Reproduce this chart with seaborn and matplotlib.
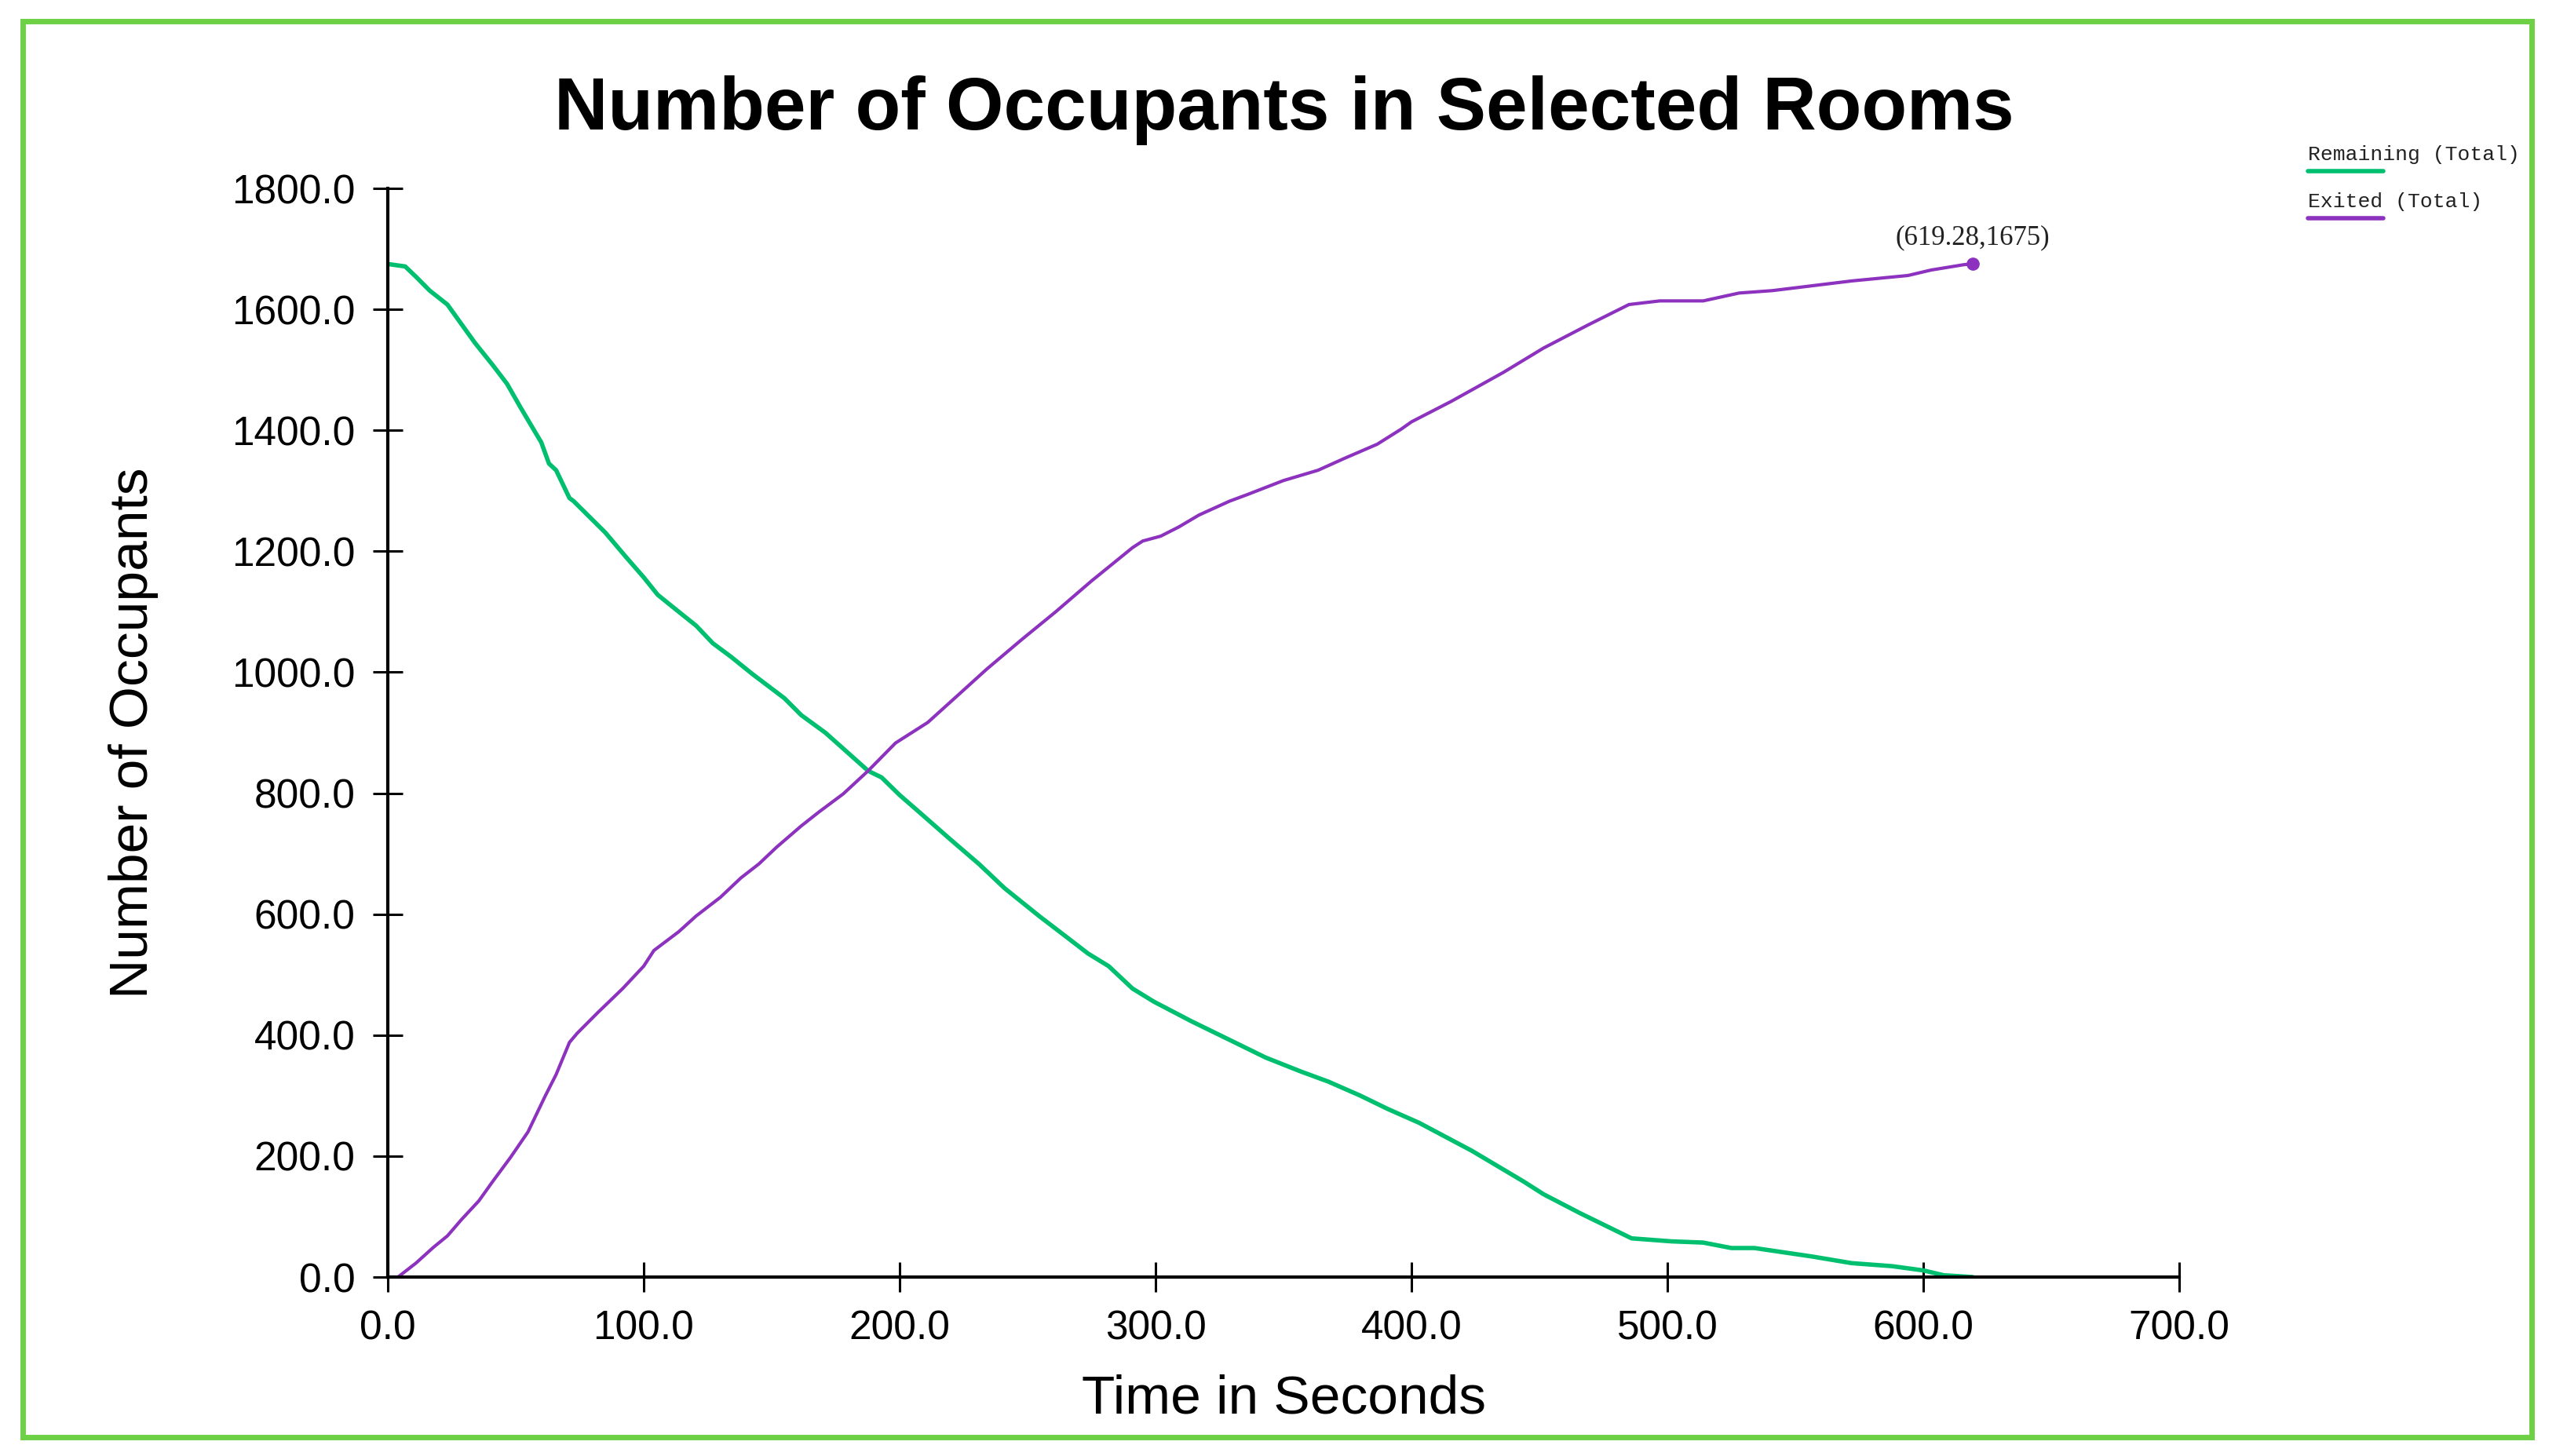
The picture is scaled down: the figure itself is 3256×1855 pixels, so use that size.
import matplotlib
matplotlib.use("Agg")
import matplotlib.pyplot as plt
from matplotlib.lines import Line2D
from matplotlib.patches import Rectangle
from matplotlib.ticker import FormatStrFormatter
import seaborn as sns
import pandas as pd

# data
remaining_time = [0, 6.8, 11, 16.4, 23.3, 34, 41, 46.6, 52, 60, 63, 65.8, 71, 72.6, 85,
                  93, 100, 105.5, 113.7, 120.5, 127, 134, 142.5, 155, 161.6, 171, 179.5,
                  187.7, 193, 200, 206.8, 220, 231, 241, 254.5, 265, 273.6, 281.7, 291,
                  299.5, 314, 329, 343, 356.7, 367.6, 380, 390.7, 403, 423.5, 443.8, 451.6,
                  465.7, 486, 501.7, 514, 525, 534, 556.5, 572, 587.8, 600, 608, 619.28]
remaining_count = [1675, 1671, 1654, 1631, 1608, 1545, 1508, 1477, 1437, 1380, 1345, 1334,
                   1288, 1283, 1231, 1191, 1157, 1128, 1100, 1077, 1048, 1026, 997, 957, 929,
                   900, 868, 837, 826, 797, 772, 723, 683, 643, 597, 563, 535, 514, 477, 455,
                   423, 392, 363, 340, 323, 300, 278, 255, 209, 158, 137, 106, 64, 59, 57, 48,
                   48, 34, 23, 18, 11, 3, 0]

exited_time = [0, 4, 11, 17.8, 23.3, 28.8, 35.6, 41, 48, 54.8, 61.6, 65.8, 71, 74, 82,
               91.8, 100, 104, 113.7, 120.5, 130, 138, 145, 152, 161.6, 168.5, 178, 187.7,
               198.4, 211, 222, 234, 247.7, 261, 275, 281.7, 291, 295, 302, 309, 317, 329,
               336, 350, 363.5, 374, 386.6, 396, 400, 415.6, 436, 451.6, 468.9, 485, 497,
               514, 528, 541, 572, 594, 603, 616, 619.28]
exited_count = [0, 0, 23, 49, 68, 95, 126, 158, 198, 240, 300, 335, 388, 403, 437, 477, 514,
                540, 571, 597, 628, 660, 683, 711, 746, 769, 799, 837, 883, 917, 959, 1005,
                1054, 1100, 1151, 1174, 1206, 1217, 1225, 1240, 1260, 1283, 1294, 1317, 1334,
                1354, 1377, 1402, 1414, 1448, 1496, 1536, 1574, 1608, 1614, 1614, 1627, 1631,
                1647, 1656, 1665, 1674, 1675]

series_names = ["Remaining (Total)", "Exited (Total)"]
series_colors = ["#00BF6F", "#8C32BE"]
end_point = (619.28, 1675)
x_ticks = [0, 100, 200, 300, 400, 500, 600, 700]
y_ticks = [0, 200, 400, 600, 800, 1000, 1200, 1400, 1600, 1800]

sns.set_style("white")
plt.rcParams["font.family"] = ["Liberation Sans", "DejaVu Sans"]
plt.rcParams["text.color"] = "black"
plt.rcParams["axes.labelcolor"] = "black"

remaining_df = pd.DataFrame({"time": remaining_time, "count": remaining_count})
exited_df = pd.DataFrame({"time": exited_time, "count": exited_count})

fig = plt.figure(figsize=(32.56, 18.55), dpi=100)
ax = fig.add_axes([0.1517, 0.1229, 0.7009, 0.7477])

sns.lineplot(data=remaining_df, x="time", y="count", color=series_colors[0],
             linewidth=4.0, ax=ax)
sns.lineplot(data=exited_df, x="time", y="count", color=series_colors[1],
             linewidth=3.0, ax=ax)

# end point marker and its label
ax.plot([end_point[0]], [end_point[1]], "o", color=series_colors[1], markersize=11)
ax.annotate("(%.2f,%d)" % end_point, xy=end_point, xytext=(0, 24),
            textcoords="offset points", ha="center", va="center",
            fontsize=25, family="Liberation Serif", color="#222222")

ax.set_xlim(0, 700)
ax.set_ylim(0, 1800)
ax.set_xticks(x_ticks)
ax.set_yticks(y_ticks)
ax.xaxis.set_major_formatter(FormatStrFormatter("%.1f"))
ax.yaxis.set_major_formatter(FormatStrFormatter("%.1f"))
ax.tick_params(direction="inout", length=27, width=2.2, pad=16.5,
               labelsize=37, colors="black", bottom=True, left=True)

for side in ["top", "right"]:
    ax.spines[side].set_visible(False)
for side in ["left", "bottom"]:
    ax.spines[side].set_color("black")
    ax.spines[side].set_linewidth(3.0)

ax.set_xlabel("Time in Seconds", fontsize=50)
ax.set_ylabel("Number of Occupants", fontsize=50)
ax.xaxis.set_label_coords(0.5, -0.089)
ax.yaxis.set_label_coords(-0.128, 0.5)

fig.text(0.5025, 0.924, "Number of Occupants in Selected Rooms", ha="center",
         va="center", fontsize=68, fontweight="bold")

# legend: label text with a short line under it
legend_y = [0.8938, 0.8615]
for name, color, ty in zip(series_names, series_colors, legend_y):
    fig.text(0.903, ty, name, ha="left", va="center", fontsize=19,
             family="Liberation Mono", color="#222222")
    fig.add_artist(Line2D([0.903, 0.9324], [ty - 0.0113, ty - 0.0113],
                          transform=fig.transFigure, color=color, linewidth=4))

# green frame round the whole picture
fig.add_artist(Rectangle((0.0089, 0.0129), 0.9816, 0.9725, transform=fig.transFigure,
                         fill=False, edgecolor="#6DD045", linewidth=5))

fig.savefig("out.png", dpi=100)
